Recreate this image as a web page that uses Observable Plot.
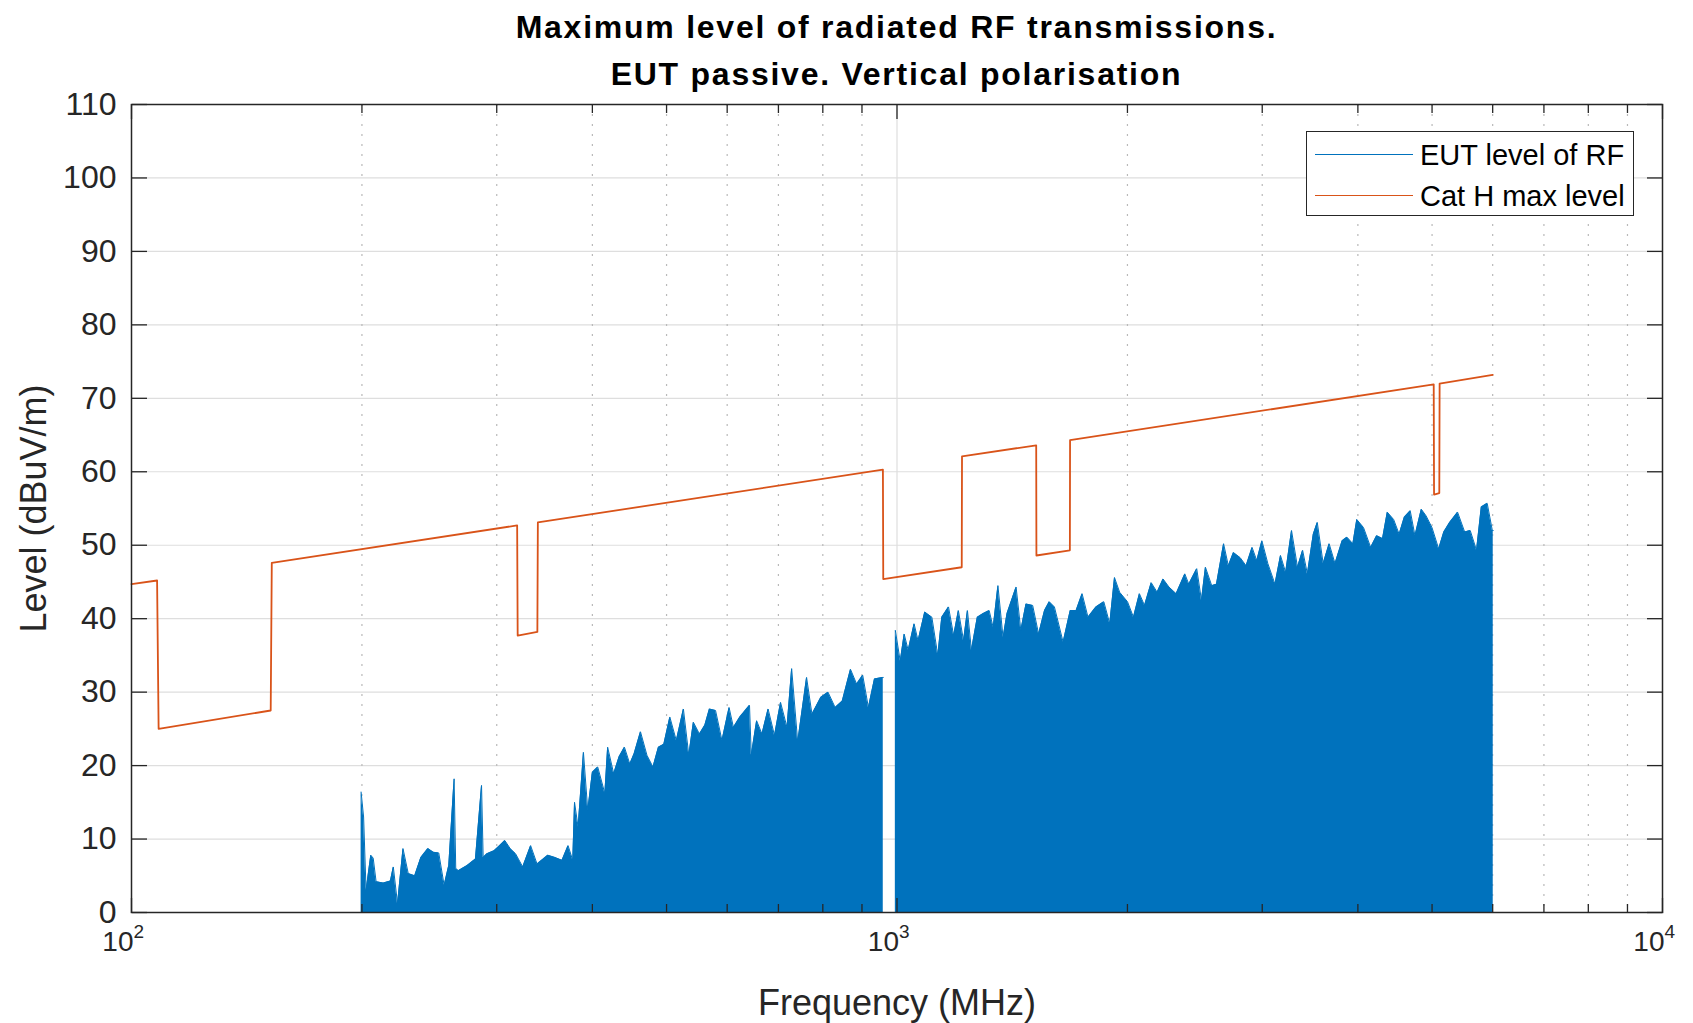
<!DOCTYPE html>
<html>
<head>
<meta charset="utf-8">
<script src="https://cdn.jsdelivr.net/npm/d3@7"></script>
<script src="https://cdn.jsdelivr.net/npm/@observablehq/plot@0.6"></script>
<style>
  body { margin: 0; background: #fff; font-family: "Liberation Sans", Arial, Helvetica, sans-serif; }
  #wrap { position: relative; width: 1693px; height: 1023px; overflow: hidden; }
  #title { box-sizing: border-box; height: 80px; padding: 4px 31px 0 131px; width: 1693px; text-align: center;
           font-weight: bold; font-size: 32px; line-height: 47px; color: #000; letter-spacing: 1.75px; white-space: nowrap; }
  #chart svg { display: block; background: transparent; }
  #legend { position: absolute; left: 1306px; top: 131px; width: 328px; height: 85px; box-sizing: border-box;
            border: 1.5px solid #262626; background: #fff; }
  .row { position: absolute; left: 0; height: 30px; width: 100%; }
  .sw { position: absolute; left: 8px; width: 98px; top: 14px; border-top: 1.5px solid; }
  .lab { position: absolute; left: 113px; top: 0; font-size: 29px; line-height: 30px; color: #000; white-space: nowrap; }
</style>
</head>
<body>
<div id="wrap">
  <div id="title">Maximum level of radiated RF transmissions.<br>EUT passive. Vertical polarisation</div>
  <div id="chart"></div>
  <div id="legend"></div>
</div>
<script>
// ---- data ----
const seriesNames = ["EUT level of RF", "Cat H max level"];
const seriesColors = ["#0072BD", "#D95319"];

// EUT level, band below 1 GHz (MHz, dBuV/m)
const eutLowFreq = [199.5, 201, 202.5, 205.4, 206.9, 208.7, 213.3, 217.9, 219.8, 222.6, 226.3, 229.9, 234.4, 238.8, 243.9, 248.0, 252.0, 256.1, 259.7, 263.9, 265.2, 267.3, 274.5, 281.4, 286.6, 288.0, 291.3, 297.6, 302.5, 307.4, 312.4, 317.5, 324.4, 332.2, 338.7, 349.8, 357.3, 365.1, 371.8, 377.1, 379.1, 383.2, 389.4, 394.5, 400.0, 406.5, 415.3, 418.8, 426.5, 433.5, 440.5, 447.7, 453.5, 462.3, 471.4, 480.0, 487.9, 495.9, 505.0, 514.9, 526.0, 534.6, 542.0, 552.0, 561.0, 568.8, 579.4, 590.7, 603.5, 611.4, 623.3, 641.7, 645.1, 655.6, 666.2, 678.6, 691.8, 704.5, 718.3, 728.4, 741.8, 761.9, 774.3, 795.4, 812.6, 830.3, 848.3, 869.5, 885.7, 902.0, 917.6, 934.5, 957.6, 959.5];
const eutLowLevel = [16.4, 13.0, 3.0, 7.8, 7.4, 4.2, 4.0, 4.3, 6.2, 1.2, 8.7, 5.3, 5.0, 7.5, 8.7, 8.2, 8.1, 3.7, 6.4, 18.2, 6.0, 5.7, 6.4, 7.3, 17.3, 7.5, 8.0, 8.4, 9.1, 9.8, 8.7, 8.0, 6.2, 9.1, 6.6, 7.8, 7.5, 7.1, 9.1, 7.1, 15.0, 11.6, 21.8, 13.9, 19.1, 19.8, 16.2, 22.5, 18.9, 21.2, 22.5, 20.2, 21.6, 24.6, 21.4, 19.8, 22.5, 22.9, 26.6, 23.4, 27.7, 21.4, 25.9, 24.3, 25.5, 27.7, 27.5, 23.4, 27.9, 25.2, 26.6, 28.2, 21.4, 26.1, 24.3, 27.7, 24.1, 28.6, 25.2, 33.2, 23.2, 32.0, 27.0, 29.3, 30.0, 27.9, 28.8, 33.1, 31.1, 32.3, 27.9, 31.8, 32.0, 32.0];

// EUT level, band above 1 GHz (MHz, dBuV/m)
const eutHighFreq = [995, 1009.8, 1021.9, 1034.2, 1052.8, 1065.4, 1087.1, 1110.6, 1130.6, 1144.2, 1167.6, 1185.8, 1202.8, 1221.5, 1236.0, 1250.9, 1273.3, 1296.4, 1319.6, 1335.5, 1354.7, 1375.8, 1392.3, 1430.9, 1451.3, 1474.1, 1504.0, 1531.1, 1558.6, 1581.0, 1605.6, 1648.2, 1683.9, 1714.0, 1745.0, 1776.3, 1819.2, 1862.9, 1896.4, 1923.7, 1953.6, 2000.6, 2036.6, 2073.4, 2105.6, 2148.3, 2187.0, 2226.4, 2266.5, 2315.5, 2376.8, 2405.4, 2463.5, 2498.8, 2528.9, 2577.2, 2614.3, 2670.9, 2709.3, 2751.4, 2807.7, 2858.0, 2909.8, 2951.2, 2997.1, 3051.2, 3117.2, 3169.5, 3218.8, 3276.5, 3335.7, 3387.6, 3436.3, 3498.0, 3540.1, 3603.6, 3668.9, 3734.5, 3815.3, 3870.2, 3940.2, 3987.1, 4068.7, 4157.0, 4232.3, 4308.2, 4370.1, 4454.4, 4529.0, 4599.7, 4682.0, 4749.3, 4841.0, 4910.6, 4999.1, 5100.6, 5180.0, 5272.1, 5398.8, 5515.7, 5608.4, 5715.7, 5798.0, 5902.2, 5994.3, 6010];
const eutHighLevel = [38.4, 34.2, 37.9, 35.7, 39.3, 37.0, 40.9, 40.2, 35.0, 40.2, 41.6, 37.7, 41.1, 37.0, 41.1, 35.7, 40.2, 40.7, 41.1, 38.8, 44.5, 37.4, 40.7, 44.3, 38.4, 42.0, 41.8, 37.9, 41.1, 42.3, 41.6, 36.8, 41.1, 41.1, 43.4, 40.2, 41.6, 42.3, 39.3, 45.6, 43.6, 42.3, 40.2, 43.4, 41.8, 44.9, 43.6, 45.4, 44.3, 43.4, 46.1, 44.7, 46.8, 42.5, 47.0, 44.5, 44.7, 50.2, 47.2, 49.0, 48.3, 47.2, 49.7, 47.9, 50.6, 47.5, 44.7, 48.6, 46.3, 52.0, 47.0, 49.3, 46.1, 51.5, 53.1, 47.5, 50.2, 47.5, 50.6, 51.1, 50.2, 53.5, 52.4, 49.7, 51.3, 50.9, 54.5, 53.5, 51.5, 53.8, 54.7, 51.3, 54.9, 54.0, 52.4, 49.5, 51.8, 53.1, 54.5, 51.8, 52.0, 49.3, 55.2, 55.7, 52.0, 52.0];

// Category H limit line (MHz, dBuV/m)
const limitFreq = [100, 108, 108.5, 152, 152.5, 319, 319.5, 339, 339.5, 958.5, 959.5, 1215, 1216, 1520, 1521, 1682, 1683, 5025, 5030, 5110, 5115, 6000];
const limitLevel = [44.7, 45.2, 25.0, 27.5, 47.6, 52.7, 37.7, 38.2, 53.1, 60.3, 45.4, 47.0, 62.1, 63.6, 48.6, 49.3, 64.3, 71.9, 56.9, 57.1, 72.0, 73.2];

// axes
const yTickValues = [0, 10, 20, 30, 40, 50, 60, 70, 80, 90, 100, 110];
const yGridValues = [10, 20, 30, 40, 50, 60, 70, 80, 90, 100];
const xMajorTicks = [100, 1000, 10000];
const xTickBase = ["10", "10", "10"];
const xTickExp = ["2", "3", "4"];
const xMinorTicks = [200, 300, 400, 500, 600, 700, 800, 900, 2000, 3000, 4000, 5000, 6000, 7000, 8000, 9000];
const xLabel = "Frequency (MHz)";
const yLabel = "Level (dBuV/m)";

// ---- build tables ----
const eut = [
  ...eutLowFreq.map((f, i) => ({f, v: eutLowLevel[i], band: "low"})),
  ...eutHighFreq.map((f, i) => ({f, v: eutHighLevel[i], band: "high"}))
];
const limit = limitFreq.map((f, i) => ({f, v: limitLevel[i]}));
const xTicks = xMajorTicks.map((x, i) => ({x, base: xTickBase[i], exp: xTickExp[i]}));

const dark = "#262626";
const chart = Plot.plot({
  width: 1693,
  height: 943,
  marginTop: 24,
  marginBottom: 111,
  marginLeft: 131,
  marginRight: 31,
  style: {fontFamily: '"Liberation Sans", Arial, Helvetica, sans-serif', fontSize: "26px", color: dark, background: "transparent", overflow: "visible"},
  x: {type: "log", domain: [100, 10000], axis: null},
  y: {domain: [0, 110], axis: null},
  marks: [
    Plot.ruleY(yGridValues, {stroke: "#dedede", strokeWidth: 1.2}),
    Plot.ruleX(xMinorTicks, {stroke: "#b9b9b9", strokeWidth: 1.2, strokeDasharray: "2,8"}),
    Plot.ruleX([1000], {stroke: "#dedede", strokeWidth: 1.2}),
    Plot.areaY(eut, {x: "f", y: "v", z: "band", fill: seriesColors[0], curve: "linear"}),
    Plot.lineY(eut, {x: "f", y: "v", z: "band", stroke: seriesColors[0], strokeWidth: 1, curve: "linear"}),
    Plot.lineY(limit, {x: "f", y: "v", stroke: seriesColors[1], strokeWidth: 1.8, curve: "linear"}),
    Plot.frame({stroke: dark, strokeWidth: 1.5}),
    // inward ticks
    Plot.axisY(yTickValues, {anchor: "right", frameAnchor: "left", tickSize: 15, fill: "none", label: null, stroke: dark, strokeWidth: 1.3}),
    Plot.axisY(yTickValues, {anchor: "left", frameAnchor: "right", tickSize: 15, fill: "none", label: null, stroke: dark, strokeWidth: 1.3}),
    Plot.axisX(xMajorTicks, {anchor: "top", frameAnchor: "bottom", tickSize: 15, fill: "none", label: null, stroke: dark, strokeWidth: 1.3}),
    Plot.axisX(xMajorTicks, {anchor: "bottom", frameAnchor: "top", tickSize: 15, fill: "none", label: null, stroke: dark, strokeWidth: 1.3}),
    Plot.axisX(xMinorTicks, {anchor: "top", frameAnchor: "bottom", tickSize: 9, fill: "none", label: null, stroke: dark, strokeWidth: 1.3}),
    Plot.axisX(xMinorTicks, {anchor: "bottom", frameAnchor: "top", tickSize: 9, fill: "none", label: null, stroke: dark, strokeWidth: 1.3}),
    // tick labels
    Plot.axisY(yTickValues, {anchor: "left", tickSize: 0, tickPadding: 15, label: null, fontSize: 32, fill: dark}),
    Plot.text(xTicks, {x: "x", text: "base", frameAnchor: "bottom", textAnchor: "end", lineAnchor: "middle", dx: 2, dy: 30, fontSize: 28, fill: dark}),
    Plot.text(xTicks, {x: "x", text: "exp", frameAnchor: "bottom", textAnchor: "start", lineAnchor: "middle", dx: 2, dy: 19, fontSize: 19, fill: dark}),
    // axis titles
    Plot.text([xLabel], {frameAnchor: "bottom", textAnchor: "middle", lineAnchor: "middle", dy: 91, fontSize: 36, fill: dark}),
    Plot.text([yLabel], {frameAnchor: "left", textAnchor: "middle", lineAnchor: "middle", dx: -97, rotate: -90, fontSize: 36, fill: dark})
  ]
});
document.getElementById("chart").appendChild(chart);

// legend
const legend = document.getElementById("legend");
const rowTops = [8, 49];
seriesNames.forEach((name, i) => {
  const row = document.createElement("div");
  row.className = "row";
  row.style.top = rowTops[i] + "px";
  const sw = document.createElement("div");
  sw.className = "sw";
  sw.style.borderTopColor = seriesColors[i];
  const lab = document.createElement("div");
  lab.className = "lab";
  lab.textContent = name;
  row.appendChild(sw);
  row.appendChild(lab);
  legend.appendChild(row);
});
</script>
</body>
</html>
